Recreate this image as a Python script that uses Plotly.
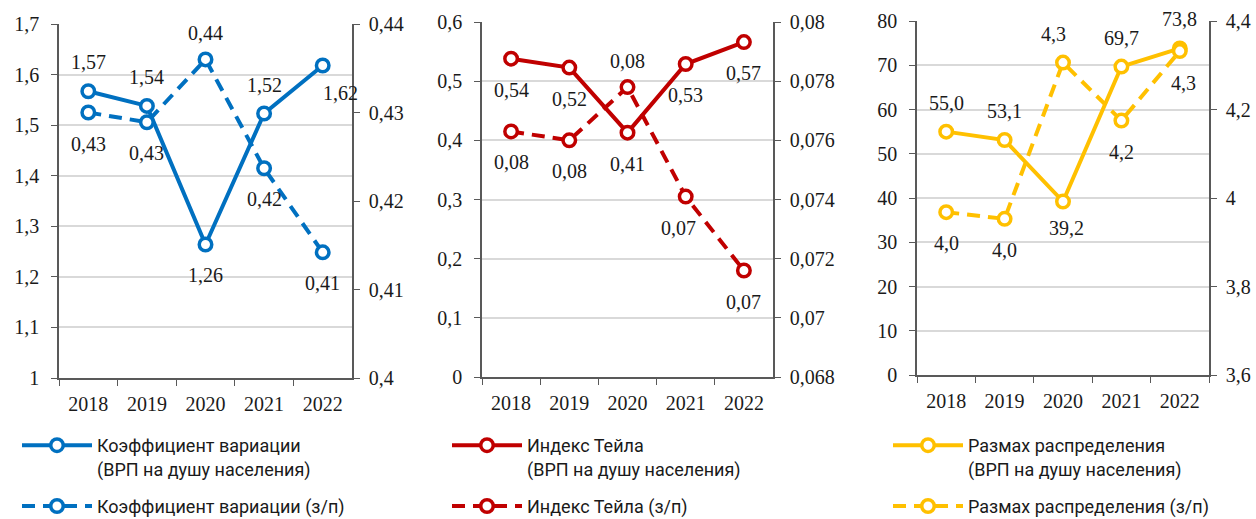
import plotly.graph_objects as go

W, H = 1256, 519

years = ["2018", "2019", "2020", "2021", "2022"]

# Panel 1: coefficient of variation
cv_grp = [1.567, 1.538, 1.264, 1.523, 1.618]
cv_wage = [0.4300, 0.4289, 0.4360, 0.4237, 0.4142]
cv_grp_labels = ["1,57", "1,54", "1,26", "1,52", "1,62"]
cv_wage_labels = ["0,43", "0,43", "0,44", "0,42", "0,41"]

# Panel 2: Theil index
theil_grp = [0.538, 0.523, 0.413, 0.529, 0.566]
theil_wage = [0.0763, 0.0760, 0.0778, 0.0741, 0.0716]
theil_grp_labels = ["0,54", "0,52", "0,41", "0,53", "0,57"]
theil_wage_labels = ["0,08", "0,08", "0,08", "0,07", "0,07"]

# Panel 3: range of distribution
range_grp = [55.0, 53.1, 39.2, 69.7, 73.8]
range_wage = [3.968, 3.953, 4.306, 4.175, 4.332]
range_grp_labels = ["55,0", "53,1", "39,2", "69,7", "73,8"]
range_wage_labels = ["4,0", "4,0", "4,3", "4,2", "4,3"]

# Tick labels
y1_vals = [1, 1.1, 1.2, 1.3, 1.4, 1.5, 1.6, 1.7]
y1_text = ["1", "1,1", "1,2", "1,3", "1,4", "1,5", "1,6", "1,7"]
y1r_vals = [0.40, 0.41, 0.42, 0.43, 0.44]
y1r_text = ["0,4", "0,41", "0,42", "0,43", "0,44"]
y2_vals = [0, 0.1, 0.2, 0.3, 0.4, 0.5, 0.6]
y2_text = ["0", "0,1", "0,2", "0,3", "0,4", "0,5", "0,6"]
y2r_vals = [0.068, 0.070, 0.072, 0.074, 0.076, 0.078, 0.080]
y2r_text = ["0,068", "0,07", "0,072", "0,074", "0,076", "0,078", "0,08"]
y3_vals = [0, 10, 20, 30, 40, 50, 60, 70, 80]
y3_text = ["0", "10", "20", "30", "40", "50", "60", "70", "80"]
y3r_vals = [3.6, 3.8, 4.0, 4.2, 4.4]
y3r_text = ["3,6", "3,8", "4", "4,2", "4,4"]

BLUE = "#0070C0"
RED = "#C00000"
YELLOW = "#FFC000"
AXIS = "#595959"
GRID = "#D9D9D9"
SERIF = "Liberation Serif"
SANS = "Roboto"

# label placement (pixel offsets: dx, dy with dy>0 meaning upward)
U, D = (0, 29), (0, -31)

fig = go.Figure()
annotations = []


def add(y, labels, place, color, dash, xa, ya, name, legend, group):
    fig.add_trace(go.Scatter(
        x=years, y=y, mode="lines+markers", name=name,
        line=dict(color=color, width=4, dash=dash),
        marker=dict(symbol="circle", size=12.5, color="white",
                    line=dict(color=color, width=3.5)),
        cliponaxis=False, xaxis=xa, yaxis=ya,
        legend=legend, legendgroup=group, hoverinfo="skip",
    ))
    for idx, (yv, t, (dx, dy)) in enumerate(zip(y, labels, place)):
        annotations.append(go.layout.Annotation(
            x=idx, y=yv, xref=xa, yref=ya, text=t, showarrow=False,
            xshift=dx, yshift=dy, xanchor="center", yanchor="middle",
            font=dict(family=SERIF, size=20, color="#1a1a1a"),
        ))


add(cv_grp, cv_grp_labels, [U, U, D, U, (18, -28)], BLUE, "solid", "x", "y",
    "Коэффициент вариации<br>(ВРП на душу населения)", "legend", "a1")
add(cv_wage, cv_wage_labels, [D, D, (0, 26), D, D], BLUE, "13px,8px", "x", "y2",
    "Коэффициент вариации (з/п)", "legend", "a2")
add(theil_grp, theil_grp_labels, [D, D, D, D, D], RED, "solid", "x2", "y3",
    "Индекс Тейла<br>(ВРП на душу населения)", "legend2", "b1")
add(theil_wage, theil_wage_labels, [D, D, (0, 26), (-7, -31), D], RED, "13px,8px", "x2", "y4",
    "Индекс Тейла (з/п)", "legend2", "b2")
add(range_grp, range_grp_labels, [U, U, (3, -26), U, U], YELLOW, "solid", "x3", "y5",
    "Размах распределения<br>(ВРП на душу населения)", "legend3", "c1")
add(range_wage, range_wage_labels, [D, D, (-10, 29), D, (4, -32)], YELLOW, "13px,8px", "x3", "y6",
    "Размах распределения (з/п)", "legend3", "c2")

panels = [
    ((59, 352), (24, 378), (1, 1.7), y1_vals, y1_text, (0.40, 0.44), y1r_vals, y1r_text),
    ((482, 773), (22, 377), (0, 0.6), y2_vals, y2_text, (0.068, 0.080), y2r_vals, y2r_text),
    ((917, 1209), (21, 375), (0, 80), y3_vals, y3_text, (3.6, 4.4), y3r_vals, y3r_text),
]

tickfont = dict(family=SERIF, size=20, color="#1a1a1a")
layout = {}
for i, (xp, yp, lr, lv, lt, rr, rv, rt) in enumerate(panels):
    xn = "xaxis" if i == 0 else f"xaxis{i + 1}"
    yl = 2 * i + 1
    yr = 2 * i + 2
    yln = "yaxis" if yl == 1 else f"yaxis{yl}"
    yrn = f"yaxis{yr}"
    xdom = [xp[0] / W, xp[1] / W]
    ydom = [1 - yp[1] / H, 1 - yp[0] / H]
    layout[xn] = dict(
        domain=xdom, anchor="y" if yl == 1 else f"y{yl}", type="category",
        range=[-0.5, 4.5], tickson="boundaries", ticks="outside", ticklen=6,
        tickcolor=AXIS, showline=True, linecolor=AXIS, linewidth=1.5,
        showgrid=False, tickfont=tickfont, fixedrange=True, ticklabelstandoff=7,
    )
    layout[yln] = dict(
        domain=ydom, anchor="x" if i == 0 else f"x{i + 1}", range=list(lr),
        tickvals=lv, ticktext=lt, ticks="outside", ticklen=6, tickcolor=AXIS,
        showline=True, linecolor=AXIS, linewidth=1.5, showgrid=True,
        gridcolor=GRID, gridwidth=1.5, zeroline=False, tickfont=tickfont,
        ticklabelstandoff=8, fixedrange=True,
    )
    layout[yrn] = dict(
        overlaying="y" if yl == 1 else f"y{yl}", side="right",
        anchor="x" if i == 0 else f"x{i + 1}", range=list(rr),
        tickvals=rv, ticktext=rt, ticks="outside", ticklen=6, tickcolor=AXIS,
        showline=True, linecolor=AXIS, linewidth=1.5, showgrid=False,
        zeroline=False, tickfont=tickfont, ticklabelstandoff=5, fixedrange=True,
    )

legend_common = dict(
    xanchor="left", yanchor="top", font=dict(family=SANS, size=18, color="#1a1a1a"),
    itemwidth=70, traceorder="grouped", tracegroupgap=11, valign="top",
    bgcolor="rgba(0,0,0,0)", orientation="v",
)
layout["legend"] = dict(x=17 / W, y=1 - 427 / H, **legend_common)
layout["legend2"] = dict(x=447 / W, y=1 - 427 / H, **legend_common)
layout["legend3"] = dict(x=888 / W, y=1 - 427 / H, **legend_common)

fig.update_layout(
    width=W, height=H, margin=dict(l=0, r=0, t=0, b=0, autoexpand=False),
    paper_bgcolor="white", plot_bgcolor="white", showlegend=True,
    hovermode=False,
    **layout,
)
for a in annotations:
    fig.add_annotation(a)

fig.write_html(
    "out.html",
    config={"displayModeBar": False},
    post_script=(
        "document.body.style.margin='0';document.body.style.overflow='hidden';"
    ),
)
